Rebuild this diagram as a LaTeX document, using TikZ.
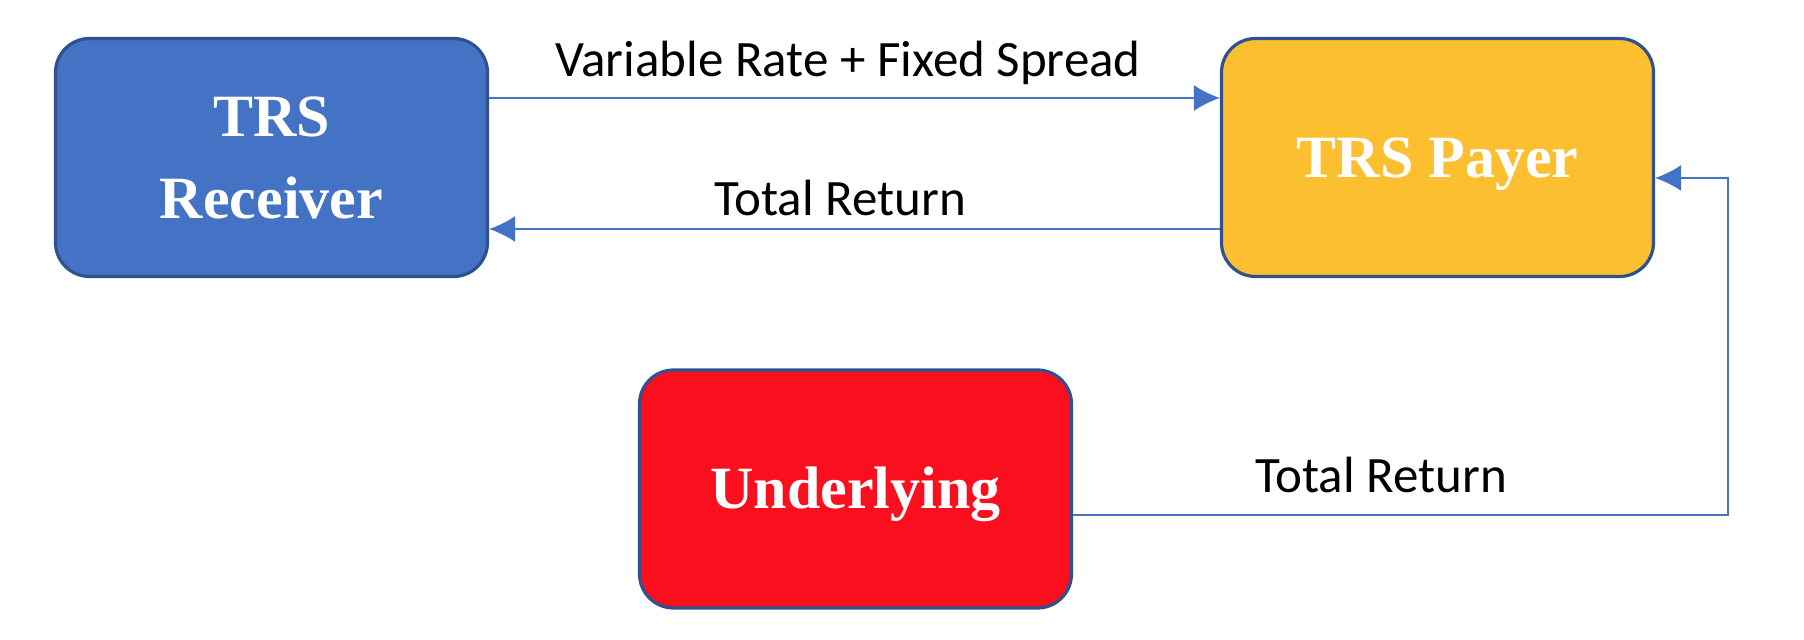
\documentclass[tikz,border=0pt]{standalone}
\usepackage{fontspec}
\setmainfont{Carlito}
\newfontfamily\boxfont{Liberation Serif}
\usetikzlibrary{calc, arrows.meta}
\definecolor{rcvblue}{HTML}{4472C4}
\definecolor{payergold}{HTML}{FBBF2F}
\definecolor{undred}{HTML}{FA0F1E}
\definecolor{edgeblue}{HTML}{2F528F}
\tikzset{>={Latex[length=13pt,width=13pt]},
  party/.style={draw=edgeblue, line width=1.6pt, rounded corners=17pt,
    minimum width=216pt, minimum height=119pt, text=white, align=center,
    font=\boxfont\bfseries\fontsize{30}{41}\selectfont},
  flow/.style={rcvblue, line width=0.8pt},
  lbl/.style={font=\fontsize{25.5}{30}\selectfont}}

\begin{document}
\begin{tikzpicture}[x=0.5pt, y=-0.5pt]
\useasboundingbox (0,0) rectangle (1804,640);
\node[party, fill=rcvblue] (rcv) at (271.5,157.5) {TRS\\Receiver};
\node[party, fill=payergold] (payer) at (1437.5,157.5) {\smash{\raisebox{-10pt}{TRS Payer}}};
\node[party, fill=undred] (und) at (855.5,489) {\smash{\raisebox{-10pt}{Underlying}}};
\coordinate (turn) at (1728,515);
% flows between the two parties
\path
([yshift=29.75pt]rcv.east)    edge[flow, ->] ([yshift=29.75pt]payer.west)
([yshift=-35.75pt]payer.west) edge[flow, ->] ([yshift=-35.75pt]rcv.east);
\draw[flow, ->] ([yshift=-13pt]und.east) -- (turn) |- ([yshift=-10.25pt]payer.east);
\node[lbl] (lvar) at (848,63) {Variable Rate + Fixed Spread};
\node[lbl] (lret) at (840,198) {Total Return};
\node[lbl] (lund) at (1381,475) {Total Return};
\end{tikzpicture}
\end{document}
